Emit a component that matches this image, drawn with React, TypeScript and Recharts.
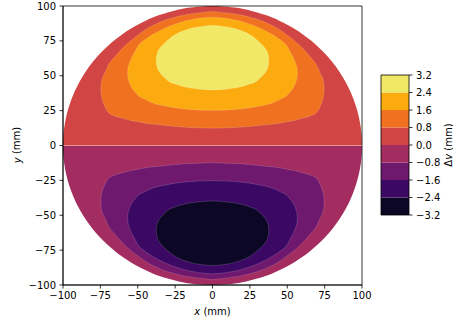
import { ComposedChart, Area, XAxis, YAxis, ReferenceLine, ReferenceArea } from "recharts";

const FONT = "DejaVu Sans, sans-serif";

// tick labels
const axisTicks = [-100, -75, -50, -25, 0, 25, 50, 75, 100];
const levels = [-3.2, -2.4, -1.6, -0.8, 0.0, 0.8, 1.6, 2.4, 3.2];
// inferno colours for each band, bottom to top
const bandColors = ["#0b0724", "#3b0964", "#6f196e", "#a32c61", "#d14644", "#f07220", "#fbab10", "#f2e867"];

// disc outline (radius 100 mm)
const circleX = [-100, -99.8, -99.5, -99, -98, -96, -94, -92, -90, -85, -80, -75, -70, -65, -60, -55, -50, -45, -40, -35, -30, -25, -20, -15, -10, -5, 0,
  5, 10, 15, 20, 25, 30, 35, 40, 45, 50, 55, 60, 65, 70, 75, 80, 85, 90, 92, 94, 96, 98, 99, 99.5, 99.8, 100];
const circleY = [0, 6.3, 10, 14.1, 19.9, 28, 34.1, 39.2, 43.6, 52.7, 60, 66.1, 71.4, 76, 80, 83.5, 86.6, 89.3, 91.7, 93.7, 95.4, 96.8, 98, 98.9, 99.5, 99.9, 100,
  99.9, 99.5, 98.9, 98, 96.8, 95.4, 93.7, 91.7, 89.3, 86.6, 83.5, 80, 76, 71.4, 66.1, 60, 52.7, 43.6, 39.2, 34.1, 28, 19.9, 14.1, 10, 6.3, 0];
const circleYNeg = [0, -6.3, -10, -14.1, -19.9, -28, -34.1, -39.2, -43.6, -52.7, -60, -66.1, -71.4, -76, -80, -83.5, -86.6, -89.3, -91.7, -93.7, -95.4, -96.8, -98, -98.9, -99.5, -99.9, -100,
  -99.9, -99.5, -98.9, -98, -96.8, -95.4, -93.7, -91.7, -89.3, -86.6, -83.5, -80, -76, -71.4, -66.1, -60, -52.7, -43.6, -39.2, -34.1, -28, -19.9, -14.1, -10, -6.3, 0];

// 0.8..1.6 band (top) and -1.6..-0.8 band (bottom)
const bandAX = [-74.7, -74.5, -74, -72, -70, -65, -60, -55, -50, -45, -40, -35, -30, -25, -20, -15, -10, -5, 0,
  5, 10, 15, 20, 25, 30, 35, 40, 45, 50, 55, 60, 65, 70, 72, 74, 74.5, 74.7];
const topALo = [40.5, 37, 34, 28, 24, 21, 19.5, 18, 17, 16, 15.3, 14.8, 14.2, 13.7, 13.2, 12.9, 12.7, 12.5, 12.4,
  12.5, 12.7, 12.9, 13.2, 13.7, 14.2, 14.8, 15.3, 16, 17, 18, 19.5, 21, 24, 28, 34, 37, 40.5];
const topAHi = [40.5, 44, 47, 52, 57, 64, 70, 75, 79, 83, 86, 88.5, 90.5, 92, 93.3, 94.2, 95, 95.6, 96,
  95.6, 95, 94.2, 93.3, 92, 90.5, 88.5, 86, 83, 79, 75, 70, 64, 57, 52, 47, 44, 40.5];
const botALo = [-40.5, -44, -47, -52, -57, -64, -70, -75, -79, -83, -86, -88.5, -90.5, -92, -93.3, -94.2, -95, -95.6, -96,
  -95.6, -95, -94.2, -93.3, -92, -90.5, -88.5, -86, -83, -79, -75, -70, -64, -57, -52, -47, -44, -40.5];
const botAHi = [-40.5, -37, -34, -28, -24, -21, -19.5, -18, -17, -16, -15.3, -14.8, -14.2, -13.7, -13.2, -12.9, -12.7, -12.5, -12.4,
  -12.5, -12.7, -12.9, -13.2, -13.7, -14.2, -14.8, -15.3, -16, -17, -18, -19.5, -21, -24, -28, -34, -37, -40.5];

// 1.6..2.4 band (top) and -2.4..-1.6 band (bottom)
const bandBX = [-56.8, -56.6, -56, -55, -52, -50, -45, -40, -35, -30, -25, -20, -15, -10, -5, 0,
  5, 10, 15, 20, 25, 30, 35, 40, 45, 50, 52, 55, 56, 56.6, 56.8];
const topBLo = [52, 49.2, 46.5, 43.5, 38.5, 36, 33, 30.5, 29, 28, 27, 26.3, 25.8, 25.5, 25.3, 25.2,
  25.3, 25.5, 25.8, 26.3, 27, 28, 29, 30.5, 33, 36, 38.5, 43.5, 46.5, 49.2, 52];
const topBHi = [52, 54.8, 57.5, 60.5, 67, 71, 76, 79.5, 82.5, 85, 87, 88.7, 90, 91, 91.6, 92,
  91.6, 91, 90, 88.7, 87, 85, 82.5, 79.5, 76, 71, 67, 60.5, 57.5, 54.8, 52];
const botBLo = [-52, -54.8, -57.5, -60.5, -67, -71, -76, -79.5, -82.5, -85, -87, -88.7, -90, -91, -91.6, -92,
  -91.6, -91, -90, -88.7, -87, -85, -82.5, -79.5, -76, -71, -67, -60.5, -57.5, -54.8, -52];
const botBHi = [-52, -49.2, -46.5, -43.5, -38.5, -36, -33, -30.5, -29, -28, -27, -26.3, -25.8, -25.5, -25.3, -25.2,
  -25.3, -25.5, -25.8, -26.3, -27, -28, -29, -30.5, -33, -36, -38.5, -43.5, -46.5, -49.2, -52];

// 2.4..3.2 core (top) and -3.2..-2.4 core (bottom)
const bandCX = [-37.7, -37.5, -37, -35, -32, -30, -25, -20, -15, -10, -5, 0, 5, 10, 15, 20, 25, 30, 32, 35, 37, 37.5, 37.7];
const topCLo = [61, 58.4, 56, 52, 48.5, 46.5, 44, 42.3, 41.2, 40.5, 40, 39.8, 40, 40.5, 41.2, 42.3, 44, 46.5, 48.5, 52, 56, 58.4, 61];
const topCHi = [61, 63.6, 66, 70, 73.5, 75.5, 79.5, 82, 83.8, 85, 85.7, 86, 85.7, 85, 83.8, 82, 79.5, 75.5, 73.5, 70, 66, 63.6, 61];
const botCLo = [-61, -63.6, -66, -70, -73.5, -75.5, -79.5, -82, -83.8, -85, -85.7, -86, -85.7, -85, -83.8, -82, -79.5, -75.5, -73.5, -70, -66, -63.6, -61];
const botCHi = [-61, -58.4, -56, -52, -48.5, -46.5, -44, -42.3, -41.2, -40.5, -40, -39.8, -40, -40.5, -41.2, -42.3, -44, -46.5, -48.5, -52, -56, -58.4, -61];

const zeros = circleX.map(() => 0);
const toRange = (xs: number[], lo: number[], hi: number[]) => xs.map((x, i) => ({ x, r: [lo[i], hi[i]] }));

const regions = [
  { key: "top0", data: toRange(circleX, zeros, circleY), color: bandColors[4], seam: false },
  { key: "bot0", data: toRange(circleX, circleYNeg, zeros), color: bandColors[3], seam: false },
  { key: "topA", data: toRange(bandAX, topALo, topAHi), color: bandColors[5], seam: true },
  { key: "topB", data: toRange(bandBX, topBLo, topBHi), color: bandColors[6], seam: true },
  { key: "topC", data: toRange(bandCX, topCLo, topCHi), color: bandColors[7], seam: true },
  { key: "botA", data: toRange(bandAX, botALo, botAHi), color: bandColors[2], seam: true },
  { key: "botB", data: toRange(bandBX, botBLo, botBHi), color: bandColors[1], seam: true },
  { key: "botC", data: toRange(bandCX, botCLo, botCHi), color: bandColors[0], seam: true },
];

const fmtAxis = (v: number) => (v < 0 ? `\u2212${Math.abs(v)}` : `${v}`);
const fmtLevel = (v: number) => (v < 0 ? `\u2212${Math.abs(v).toFixed(1)}` : v.toFixed(1));

const tickStyle = { fill: "#000", fontSize: 10, fontFamily: FONT };

function XTitle() {
  return (
    <text x={212.5} y={311} textAnchor="middle" dominantBaseline="central" fontSize={10} fontFamily={FONT} fill="#000">
      <tspan fontStyle="italic">x</tspan>{" (mm)"}
    </text>
  );
}

function YTitle() {
  return (
    <text x={16.5} y={145} transform="rotate(-90, 16.5, 145)" textAnchor="middle" dominantBaseline="central" fontSize={10} fontFamily={FONT} fill="#000">
      <tspan fontStyle="italic">y</tspan>{" (mm)"}
    </text>
  );
}

function CbTitle() {
  return (
    <text x={448} y={145} transform="rotate(-90, 448, 145)" textAnchor="middle" dominantBaseline="central" fontSize={10} fontFamily={FONT} fill="#000">
      {"\u0394"}<tspan fontStyle="italic">v</tspan>{" (mm)"}
    </text>
  );
}

export default function App() {
  return (
    <div style={{ position: "absolute", left: 0, top: 0, width: 453, height: 326, background: "#fff" }}>
      <div style={{ position: "absolute", left: 0, top: 0 }}>
        <ComposedChart width={453} height={326} margin={{ top: 6, right: 91, bottom: 11, left: 23 }}>
          <XAxis type="number" dataKey="x" domain={[-100, 100]} ticks={axisTicks} interval={0} allowDataOverflow
            tickFormatter={fmtAxis} tick={tickStyle} tickSize={3.5} tickMargin={3.5} height={30}
            axisLine={{ stroke: "#000", strokeWidth: 0.8 }} tickLine={{ stroke: "#000", strokeWidth: 0.8 }} label={<XTitle />} />
          <YAxis type="number" domain={[-100, 100]} ticks={axisTicks} interval={0} allowDataOverflow
            tickFormatter={fmtAxis} tick={tickStyle} tickSize={3.5} tickMargin={3.5} width={40}
            axisLine={{ stroke: "#000", strokeWidth: 0.8 }} tickLine={{ stroke: "#000", strokeWidth: 0.8 }} label={<YTitle />} />
          {regions.map((r) => (
            <Area key={r.key} data={r.data} dataKey="r" type="monotone" fill={r.color} fillOpacity={1}
              stroke={r.seam ? "#ffffff" : "none"} strokeOpacity={0.3} strokeWidth={0.5}
              dot={false} activeDot={false} isAnimationActive={false} />
          ))}
          <ReferenceLine y={0} stroke="#eba0a4" strokeWidth={0.8} />
          <ReferenceArea x1={-100} x2={100} y1={-100} y2={100} fill="none" stroke="#000" strokeWidth={0.8} ifOverflow="visible" />
        </ComposedChart>
      </div>
      <div style={{ position: "absolute", left: 0, top: 0 }}>
        <ComposedChart width={453} height={326} data={[{ x: 0 }, { x: 1 }]} margin={{ top: 75, right: 4, bottom: 111, left: 381 }}>
          <XAxis type="number" dataKey="x" domain={[0, 1]} hide />
          <YAxis type="number" orientation="right" domain={[-3.2, 3.2]} ticks={levels} interval={0} allowDataOverflow
            tickFormatter={fmtLevel} tick={tickStyle} tickSize={3.5} tickMargin={3.5} width={40}
            axisLine={false} tickLine={{ stroke: "#000", strokeWidth: 0.8 }} label={<CbTitle />} />
          {bandColors.map((c, i) => (
            <ReferenceArea key={c} x1={0} x2={1} y1={levels[i]} y2={levels[i + 1]} fill={c} fillOpacity={1} stroke="none" ifOverflow="visible" />
          ))}
          <ReferenceArea x1={0} x2={1} y1={-3.2} y2={3.2} fill="none" stroke="#000" strokeWidth={0.8} ifOverflow="visible" />
        </ComposedChart>
      </div>
    </div>
  );
}
